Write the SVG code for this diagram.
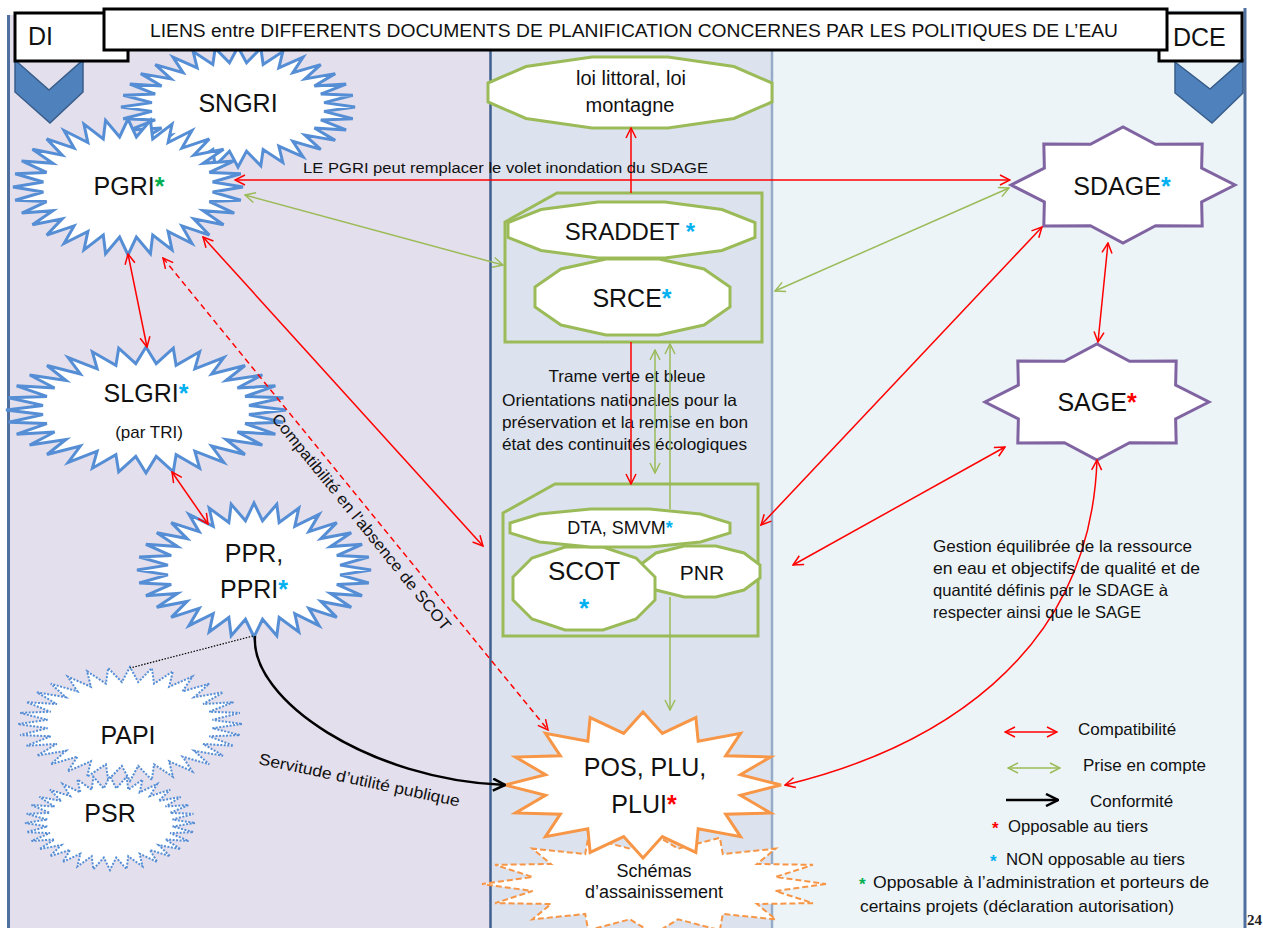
<svg xmlns="http://www.w3.org/2000/svg" width="1263" height="928" viewBox="0 0 1263 928">
<style>
.t{font-family:"Liberation Sans",Arial,sans-serif;fill:#111}
.b{fill:#fff;stroke:#558ed5;stroke-width:3}
.bd{fill:#fff;stroke:#558ed5;stroke-width:2;stroke-dasharray:2 1.5}
.g{fill:#fff;stroke:#9bbb59;stroke-width:3}
.p{fill:#fff;stroke:#8064a2;stroke-width:3}
.o{fill:#fff;stroke:#f79646;stroke-width:3}
.od{fill:#fff;stroke:#f79646;stroke-width:2;stroke-dasharray:6 3}
.r{fill:none;stroke:#f00;stroke-width:1.5;marker-start:url(#mr);marker-end:url(#mr)}
.gr{fill:none;stroke:#9bbb59;stroke-width:1.5;marker-start:url(#mg);marker-end:url(#mg)}
.bs{fill:#00b0f0;font-weight:bold}
.rs{fill:#f00;font-weight:bold}
.gs{fill:#00b050;font-weight:bold}
</style>
<defs>
<polygon id="s32" vector-effect="non-scaling-stroke" points="100,0 73.6,7.3 98.1,19.5 70.8,21.5 92.4,38.3 65.3,34.9 83.1,55.6 57.2,46.9 70.7,70.7 46.9,57.2 55.6,83.1 34.9,65.3 38.3,92.4 21.5,70.8 19.5,98.1 7.3,73.6 0,100 -7.3,73.6 -19.5,98.1 -21.5,70.8 -38.3,92.4 -34.9,65.3 -55.6,83.1 -46.9,57.2 -70.7,70.7 -57.2,46.9 -83.1,55.6 -65.3,34.9 -92.4,38.3 -70.8,21.5 -98.1,19.5 -73.6,7.3 -100,0 -73.6,-7.3 -98.1,-19.5 -70.8,-21.5 -92.4,-38.3 -65.3,-34.9 -83.1,-55.6 -57.2,-46.9 -70.7,-70.7 -46.9,-57.2 -55.6,-83.1 -34.9,-65.3 -38.3,-92.4 -21.5,-70.8 -19.5,-98.1 -7.3,-73.6 0,-100 7.3,-73.6 19.5,-98.1 21.5,-70.8 38.3,-92.4 34.9,-65.3 55.6,-83.1 46.9,-57.2 70.7,-70.7 57.2,-46.9 83.1,-55.6 65.3,-34.9 92.4,-38.3 70.8,-21.5 98.1,-19.5 73.6,-7.3"/>
<polygon id="s16" vector-effect="non-scaling-stroke" points="100,0 70.6,14 92.4,38.3 59.9,40 70.7,70.7 40,59.9 38.3,92.4 14,70.6 0,100 -14,70.6 -38.3,92.4 -40,59.9 -70.7,70.7 -59.9,40 -92.4,38.3 -70.6,14 -100,0 -70.6,-14 -92.4,-38.3 -59.9,-40 -70.7,-70.7 -40,-59.9 -38.3,-92.4 -14,-70.6 0,-100 14,-70.6 38.3,-92.4 40,-59.9 70.7,-70.7 59.9,-40 92.4,-38.3 70.6,-14"/>
<polygon id="s8" vector-effect="non-scaling-stroke" points="100,0 70.2,29.1 70.7,70.7 29.1,70.2 0,100 -29.1,70.2 -70.7,70.7 -70.2,29.1 -100,0 -70.2,-29.1 -70.7,-70.7 -29.1,-70.2 0,-100 29.1,-70.2 70.7,-70.7 70.2,-29.1"/>
<marker id="mr" viewBox="0 0 12 12" refX="11" refY="6" markerWidth="12" markerHeight="12" markerUnits="userSpaceOnUse" orient="auto-start-reverse"><path d="M1,1 L11,6 L1,11" fill="none" stroke="#f00" stroke-width="1.5" stroke-dasharray="none"/></marker>
<marker id="mg" viewBox="0 0 12 12" refX="11" refY="6" markerWidth="12" markerHeight="12" markerUnits="userSpaceOnUse" orient="auto-start-reverse"><path d="M1,1 L11,6 L1,11" fill="none" stroke="#9bbb59" stroke-width="1.5"/></marker>
<marker id="mk" viewBox="0 0 14 14" refX="13" refY="7" markerWidth="14" markerHeight="14" markerUnits="userSpaceOnUse" orient="auto"><path d="M1,1 L13,7 L1,13" fill="none" stroke="#000" stroke-width="2.5"/></marker>
</defs>

<g id="background">
<rect x="0" y="0" width="1263" height="928" fill="#fff"/>
<rect x="8" y="15" width="482" height="913" fill="#e4dfec"/>
<rect x="490" y="15" width="282" height="913" fill="#dce3ee"/>
<rect x="772" y="10" width="473" height="918" fill="#ecf4f8"/>
<line x1="8.5" y1="15" x2="8.5" y2="928" stroke="#4f6f9f" stroke-width="3"/>
<line x1="1245" y1="8" x2="1245" y2="928" stroke="#4f6f9f" stroke-width="3"/>
<line x1="490.5" y1="50" x2="490.5" y2="928" stroke="#3f5f8f" stroke-width="2.5"/>
<line x1="772" y1="50" x2="772" y2="928" stroke="#95abc8" stroke-width="2.5"/>
<polygon points="15,60 49,90 83,60 83,92 50,123 15,92" fill="#4f81bd" stroke="#385d8a" stroke-width="1.5"/>
<polygon points="1175,62 1210,89 1243,60 1243,93 1212,123 1175,93" fill="#4f81bd" stroke="#385d8a" stroke-width="1.5"/>
</g>

<g id="SNGRI"><use href="#s32" class="b" transform="translate(238,107) scale(1.17,0.6)"/><text class="t" x="238" y="112" font-size="25" text-anchor="middle">SNGRI</text></g>
<g id="PGRI"><use href="#s32" class="b" transform="translate(128,187) scale(1.15,0.68)"/><text class="t" x="129" y="195" font-size="25" text-anchor="middle">PGRI<tspan class="gs">*</tspan></text></g>
<g id="SLGRI"><use href="#s32" class="b" transform="translate(146,410) scale(1.4,0.63)"/><text class="t" x="146" y="402" font-size="25" text-anchor="middle">SLGRI<tspan class="bs">*</tspan></text><text class="t" x="149" y="438" font-size="17" text-anchor="middle">(par TRI)</text></g>
<g id="PPR"><use href="#s32" class="b" transform="translate(254,570) scale(1.17,0.67)"/><text class="t" x="254" y="562" font-size="25" text-anchor="middle">PPR,</text><text class="t" x="254" y="598" font-size="25" text-anchor="middle">PPRI<tspan class="bs">*</tspan></text></g>
<g id="PAPI"><use href="#s32" class="bd" transform="translate(130,724) scale(1.12,0.57)"/><text class="t" x="128" y="744" font-size="25" text-anchor="middle">PAPI</text></g>
<g id="PSR"><use href="#s32" class="bd" transform="translate(110,823) scale(0.85,0.47)"/><text class="t" x="110" y="822" font-size="25" text-anchor="middle">PSR</text></g>

<g id="loi"><polygon class="g" points="488,83 526,66.5 592,57 668,57 734,66.5 772,83 772,102 734,118.5 668,128 592,128 526,118.5 488,102"/><text class="t" x="631" y="85" font-size="20" text-anchor="middle">loi littoral, loi</text><text class="t" x="630" y="112" font-size="20" text-anchor="middle">montagne</text></g>
<g id="groupe-regional"><path d="M505,222 L557,193 H762 V342 H505 Z" fill="none" stroke="#9bbb59" stroke-width="3"/>
<g id="SRADDET"><polygon class="g" points="508,222.5 541,209.5 598,202 665,202 722,209.5 755,222.5 755,237.5 722,250.5 665,258 598,258 541,250.5 508,237.5"/><text class="t" x="630" y="240" font-size="24" text-anchor="middle">SRADDET <tspan class="bs">*</tspan></text></g>
<g id="SRCE"><polygon class="g" points="535,287 561,269 606,259 659,259 704,269 730,287 730,307 704,325 659,335 606,335 561,325 535,307"/><text class="t" x="632" y="307" font-size="25" text-anchor="middle">SRCE<tspan class="bs">*</tspan></text></g>
</g>
<g id="trame"><text class="t" x="627" y="382" font-size="16.5" text-anchor="middle" textLength="157" lengthAdjust="spacingAndGlyphs">Trame verte et bleue</text>
<text class="t" x="502" y="406" font-size="16.5" textLength="235" lengthAdjust="spacingAndGlyphs">Orientations nationales pour la</text>
<text class="t" x="502" y="428" font-size="16.5" textLength="246" lengthAdjust="spacingAndGlyphs">préservation et la remise en bon</text>
<text class="t" x="502" y="450" font-size="16.5" textLength="245" lengthAdjust="spacingAndGlyphs">état des continuités écologiques</text></g>
<g id="groupe-local"><path d="M503,513 L555,484 H758 V636 H503 Z" fill="none" stroke="#9bbb59" stroke-width="3"/>
<g id="PNR"><polygon class="g" points="640,565 656,553 684,546 716,546 744,553 760,565 760,578 744,590 716,597 684,597 656,590 640,578"/><text class="t" x="702" y="580" font-size="21" text-anchor="middle">PNR</text></g>
<g id="SCOT"><polygon class="g" points="513,577 532,558 565,547 603,547 636,558 655,577 655,600 636,619 603,630 565,630 532,619 513,600"/><text class="t" x="584" y="580" font-size="26" text-anchor="middle">SCOT</text><text class="bs" x="584" y="617" font-size="26" text-anchor="middle" font-family="Liberation Sans, Arial, sans-serif">*</text></g>
<g id="DTA"><polygon class="g" points="510,523 539.5,514 590.5,509 649.5,509 700.5,514 730,523 730,533 700.5,542 649.5,547 590.5,547 539.5,542 510,533"/><text class="t" x="620" y="534" font-size="18" text-anchor="middle">DTA, SMVM<tspan class="bs">*</tspan></text></g>
</g>

<g id="Schemas"><use href="#s16" class="od" transform="translate(654,884) scale(1.72,0.5)"/><text class="t" x="654" y="877" font-size="18" text-anchor="middle">Schémas</text><text class="t" x="654" y="898" font-size="18" text-anchor="middle">d’assainissement</text></g>
<g id="POS"><use href="#s16" class="o" transform="translate(643,785) scale(1.38,0.73)"/><text class="t" x="645" y="776" font-size="25" text-anchor="middle">POS, PLU,</text><text class="t" x="644" y="813" font-size="25" text-anchor="middle">PLUI<tspan class="rs">*</tspan></text></g>

<g id="SDAGE"><use href="#s8" class="p" transform="translate(1123,185) scale(1.12,0.58)"/><text class="t" x="1122" y="195" font-size="25" text-anchor="middle">SDAGE<tspan class="bs">*</tspan></text></g>
<g id="SAGE"><use href="#s8" class="p" transform="translate(1097,402) scale(1.12,0.58)"/><text class="t" x="1097" y="411" font-size="25" text-anchor="middle">SAGE<tspan class="rs">*</tspan></text></g>

<g id="header">
<rect x="15" y="13" width="113" height="48" fill="#fff" stroke="#000" stroke-width="3"/>
<text class="t" x="28" y="45" font-size="25">DI</text>
<rect x="1159" y="13" width="83" height="48" fill="#fff" stroke="#000" stroke-width="3"/>
<text class="t" x="1173" y="46" font-size="25">DCE</text>
<rect x="104" y="9" width="1063" height="41" fill="#fff" stroke="#000" stroke-width="3"/>
<text class="t" x="150" y="37" font-size="17.5" textLength="968" lengthAdjust="spacingAndGlyphs">LIENS entre DIFFERENTS DOCUMENTS DE PLANIFICATION CONCERNES PAR LES POLITIQUES DE L’EAU</text>
</g>

<g id="connectors">
<path class="r" d="M235,180 H1010"/>
<path class="gr" d="M245,195 L503,265"/>
<path class="gr" d="M1009,188 L775,291"/>
<path d="M631,193 V128" fill="none" stroke="#f00" stroke-width="1.5" marker-end="url(#mr)"/>
<path d="M631,342 V484" fill="none" stroke="#f00" stroke-width="1.5" marker-end="url(#mr)"/>
<path class="gr" d="M655,350 V473"/>
<path class="gr" d="M670,344 V509 M670,597 V710"/>
<path class="r" d="M128,254 L147,347"/>
<path class="r" d="M172,472 L208,524"/>
<path class="r" d="M203,237 L483,546"/>
<path class="r" d="M163,258 L548,730" stroke-dasharray="6 4"/>
<path class="r" d="M1108,243 L1098,342"/>
<path class="r" d="M1042,227 L761,525"/>
<path class="r" d="M1005,447 L793,565"/>
<path class="r" d="M1097,460 C1090,660 930,750 785,785"/>
<path d="M255,636 C250,700 370,780 505,785" fill="none" stroke="#000" stroke-width="2.5" marker-end="url(#mk)"/>
<path d="M253,636 L130,668" fill="none" stroke="#000" stroke-width="1.2" stroke-dasharray="1.5 1.5"/>
<text class="t" x="303" y="173" font-size="15.5" textLength="405" lengthAdjust="spacingAndGlyphs">LE PGRI peut remplacer le volet inondation du SDAGE</text>
<text class="t" font-size="16" transform="translate(271,419) rotate(51)" textLength="274" lengthAdjust="spacingAndGlyphs">Compatibilité en l’absence de SCOT</text>
<text class="t" font-size="16" transform="translate(258,764) rotate(12)" textLength="205" lengthAdjust="spacingAndGlyphs">Servitude d’utilité publique</text>
</g>

<g id="gestion">
<text class="t" x="933" y="552" font-size="16.5" textLength="259" lengthAdjust="spacingAndGlyphs">Gestion équilibrée de la ressource</text>
<text class="t" x="933" y="574" font-size="16.5" textLength="267" lengthAdjust="spacingAndGlyphs">en eau  et objectifs de qualité et de</text>
<text class="t" x="933" y="596" font-size="16.5" textLength="235" lengthAdjust="spacingAndGlyphs">quantité définis par le SDAGE à</text>
<text class="t" x="933" y="618" font-size="16.5" textLength="208" lengthAdjust="spacingAndGlyphs">respecter ainsi que le SAGE</text>
</g>

<g id="legend">
<path class="r" d="M1005,732 H1057"/>
<path class="gr" d="M1008,768 H1060"/>
<path d="M1006,800 H1058" fill="none" stroke="#000" stroke-width="2.5" marker-end="url(#mk)"/>
<text class="t" x="1078" y="735" font-size="17">Compatibilité</text>
<text class="t" x="1083" y="771" font-size="17">Prise en compte</text>
<text class="t" x="1090" y="807" font-size="17">Conformité</text>
<text class="rs" x="992" y="834" font-size="17" font-family="Liberation Sans, Arial, sans-serif">*</text>
<text class="t" x="1008" y="832" font-size="17" textLength="140" lengthAdjust="spacingAndGlyphs">Opposable au tiers</text>
<text class="bs" x="990" y="867" font-size="17" font-family="Liberation Sans, Arial, sans-serif">*</text>
<text class="t" x="1006" y="865" font-size="17" textLength="179" lengthAdjust="spacingAndGlyphs">NON opposable au tiers</text>
<text class="gs" x="859" y="890" font-size="17" font-family="Liberation Sans, Arial, sans-serif">*</text>
<text class="t" x="873" y="888" font-size="17" textLength="336" lengthAdjust="spacingAndGlyphs">Opposable  à l’administration et porteurs de</text>
<text class="t" x="860" y="912" font-size="17" textLength="314" lengthAdjust="spacingAndGlyphs">certains projets (déclaration autorisation)</text>
</g>
<text x="1247" y="925" font-family="Liberation Serif, serif" font-size="15" font-weight="bold" fill="#222">24</text>
</svg>
